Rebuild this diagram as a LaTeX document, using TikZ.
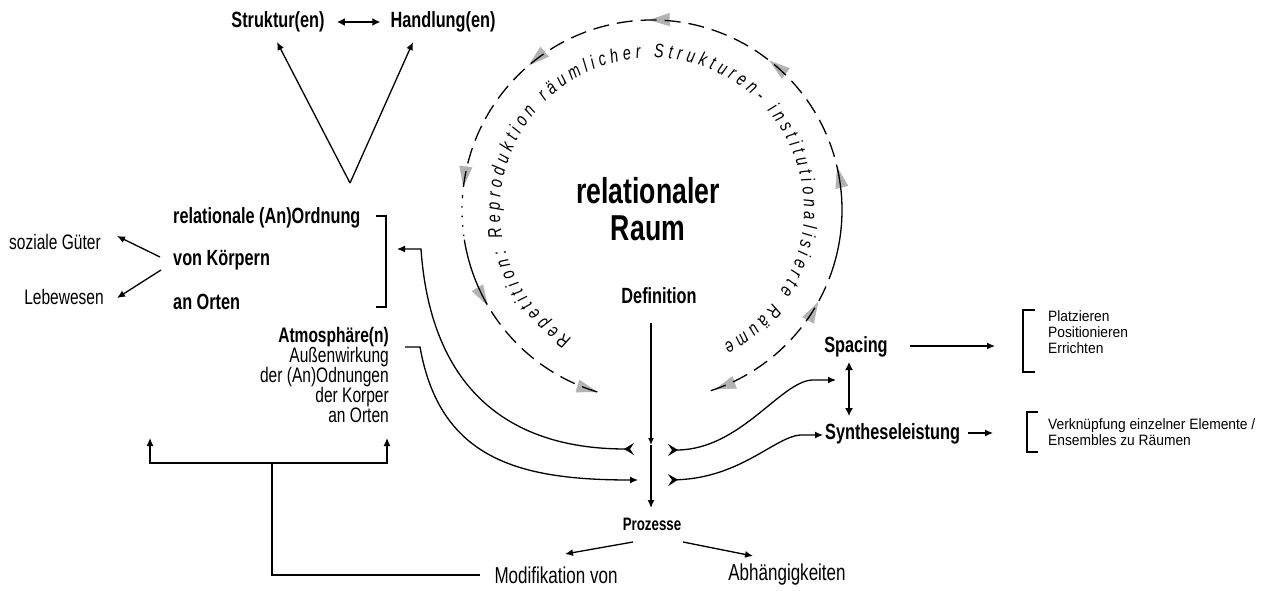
\documentclass[tikz,border=0pt]{standalone}
\usepackage{fontspec}
\setmainfont{Liberation Sans}[FakeStretch=0.74]
\newfontfamily\smallfnt{Liberation Sans}[FakeStretch=0.92]
\usetikzlibrary{arrows.meta,decorations.text,decorations.markings}

\newcommand{\ringfont}{\fontsize{19.5}{19.5}\selectfont\itshape}

\tikzset{
  lbl/.style={font=\fontsize{22}{20}\selectfont\bfseries, inner sep=0pt},
  txt/.style={font=\fontsize{21}{20}\selectfont, inner sep=0pt},
  bigtxt/.style={font=\fontsize{23}{22}\selectfont, inner sep=0pt},
  small/.style={font=\smallfnt\fontsize{15}{16}\selectfont, inner sep=0pt, align=left},
  line/.style={line width=1.3pt},
  arr/.style={line width=1.3pt, -{Latex[length=8pt,width=7pt]}},
  darr/.style={line width=1.8pt, {Latex[length=8pt,width=8pt]}-{Latex[length=8pt,width=8pt]}},
  tailarr/.style={line width=1.3pt, {Stealth[reversed,length=10pt,width=12pt,inset=4pt]}-{Latex[length=8pt,width=7pt]}},
  cyc/.style={line width=1.3pt, dash pattern=on 16pt off 8pt},
  gtip/.tip={Triangle[length=21pt,width=13pt,color=gray!60]}
}

\begin{document}
\begin{tikzpicture}[x=1pt,y=-1pt]
\useasboundingbox (0,0) rectangle (1267,590);

% Top: Struktur <-> Handlung
\node[lbl] (struk) at (278,22) {Struktur(en)};
\node[lbl] (hand) at (443,22) {Handlung(en)};
\draw[darr, shorten <=12pt, shorten >=10pt] (struk) -- (hand);
\coordinate (apex) at (350,183);
\coordinate (strukin) at (277,42);
\coordinate (handin) at (413,42);
\draw[arr] (apex) -- (strukin);
\draw[arr] (apex) -- (handin);

% Left block
\node[lbl, anchor=west] (relord) at (173,218) {relationale (An)Ordnung};
\node[lbl, anchor=west] (vonk) at (173,260) {von Körpern};
\node[lbl, anchor=west] (anort) at (173,302) {an Orten};
\coordinate (bt) at (386,216);
\coordinate (bb) at (386,307);
\draw[line] ([xshift=-10pt]bt) -- (bt) -- (bb) -- ([xshift=-10pt]bb);

\node[txt] (sozg) at (55,242) {soziale Güter};
\node[txt] (lebew) at (64,297) {Lebewesen};
\coordinate (vk1) at (160,257);
\coordinate (vk2) at (161,270);
\coordinate (sgin) at (117,236);
\coordinate (lwin) at (117,298);
\draw[arr] (vk1) -- (sgin);
\draw[arr] (vk2) -- (lwin);

\node[txt, anchor=north east, align=right] (atmo) at (389,327)
  {\textbf{Atmosphäre(n)}\\Außenwirkung\\der (An)Odnungen\\der Korper\\an Orten};

% Bottom feedback line
\node[bigtxt] (modif) at (556,575) {Modifikation von};
\node[bigtxt] (abh) at (787,575) {Abhängigkeiten};
\coordinate (lj) at (272,463);
\coordinate (la) at (150,438);
\coordinate (ra) at (387,438);
\draw[line, shorten <=14pt] (modif.west) -| (lj);
\draw[arr] (lj) -| (la);
\draw[arr] (lj) -| (ra);

% Ring of repetition
\coordinate (c) at (652,210);
\path[decorate, decoration={markings,
    mark=at position .004 with {\arrowreversed{gtip}},
    mark=at position .132 with {\arrow{gtip}},
    mark=at position .261 with {\arrow{gtip}},
    mark=at position .380 with {\arrow{gtip}},
    mark=at position .500 with {\arrow{gtip}},
    mark=at position .621 with {\arrow{gtip}},
    mark=at position .752 with {\arrow{gtip}},
    mark=at position .866 with {\arrow{gtip}},
    mark=at position .998 with {\arrow{gtip}}}]
  (c) ++(72:190) arc[start angle=72, end angle=-254, radius=190];
\draw[cyc] (c) ++(72:190) arc[start angle=72, end angle=21, radius=190];
\draw[line] (c) ++(21:190) arc[start angle=21, end angle=-9, radius=190];
\draw[cyc] (c) ++(-9:190) arc[start angle=-9, end angle=-176, radius=190];
\draw[line, dash pattern=on 1.5pt off 8pt] (c) ++(-176:190) arc[start angle=-176, end angle=-189, radius=190];
\draw[line] (c) ++(-189:190) arc[start angle=-189, end angle=-205, radius=190];
\draw[cyc] (c) ++(-205:190) arc[start angle=-205, end angle=-254, radius=190];
\path[decorate, decoration={text along path, text align={fit to path},
    text={|\ringfont|Repetition: Reproduktion räumlicher Strukturen- institutionalisierte Räume}}]
  (c) ++(122:152) arc[start angle=122, end angle=422, radius=152];

\node[font=\fontsize{36}{37}\selectfont\bfseries, align=center, inner sep=0pt] (raum) at (648,209) {relationaler\\Raum};

% Definition -> Prozesse
\node[lbl, font=\fontsize{22}{22}\selectfont\bfseries] (defi) at (659,296) {Definition};
\node[lbl, font=\fontsize{18}{18}\selectfont\bfseries] (proz) at (652,524) {Prozesse};
\coordinate (vtop) at (651,323);
\coordinate (vmid) at (651,445);
\coordinate (vbot) at (651,508);
\draw[line, -{Latex[length=7pt,width=6pt]}] (vtop) -- (vmid);
\draw[arr] (vmid) -- (vbot);
\coordinate (pm) at (633,542);
\coordinate (pmin) at (565,554);
\coordinate (pa) at (683,542);
\coordinate (pain) at (753,556);
\draw[arr] (pm) -- (pmin);
\draw[arr] (pa) -- (pain);

% Curves into and out of the centre
\coordinate (ul) at (634,449);
\coordinate (bk) at (421,249);
\coordinate (bin) at (397,249);
\draw[tailarr] (ul) .. controls (500,449) and (430,380) .. (bk) -- (bin);
\coordinate (as) at (405,347);
\coordinate (ak) at (420,347);
\coordinate (ll) at (638,480);
\draw[arr] (as) -- (ak) .. controls (440,460) and (520,480) .. (ll);
\coordinate (ur) at (668,450);
\coordinate (urk) at (812,380);
\coordinate (spin) at (836,380);
\draw[tailarr] (ur) .. controls (740,450) and (780,382) .. (urk) -- (spin);
\coordinate (lr) at (668,480);
\coordinate (lrk) at (800,435);
\coordinate (syin) at (823,435);
\draw[tailarr] (lr) .. controls (740,478) and (775,437) .. (lrk) -- (syin);

% Right side
\node[lbl, font=\fontsize{22}{21}\selectfont\bfseries] (spac) at (856,347) {Spacing};
\node[lbl, font=\fontsize{22}{21}\selectfont\bfseries, anchor=west] (synth) at (825,434) {Syntheseleistung};
\coordinate (dtop) at (849,362);
\coordinate (dbot) at (849,416);
\draw[darr, line width=1.3pt] (dtop) -- (dbot);

\coordinate (sa) at (910,346);
\coordinate (sb) at (995,346);
\draw[arr] (sa) -- (sb);
\draw[line] (1035,310) -- (1023,310) -- (1023,372) -- (1035,372);
\node[small, anchor=north west] (plz) at (1048,310) {Platzieren\\Positionieren\\Errichten};

\coordinate (ya) at (968,433);
\coordinate (yb) at (993,433);
\draw[arr] (ya) -- (yb);
\draw[line] (1038,412) -- (1027,412) -- (1027,452) -- (1038,452);
\node[small, anchor=west] (verk) at (1048,432) {Verknüpfung einzelner Elemente /\\Ensembles zu Räumen};
\end{tikzpicture}
\end{document}
